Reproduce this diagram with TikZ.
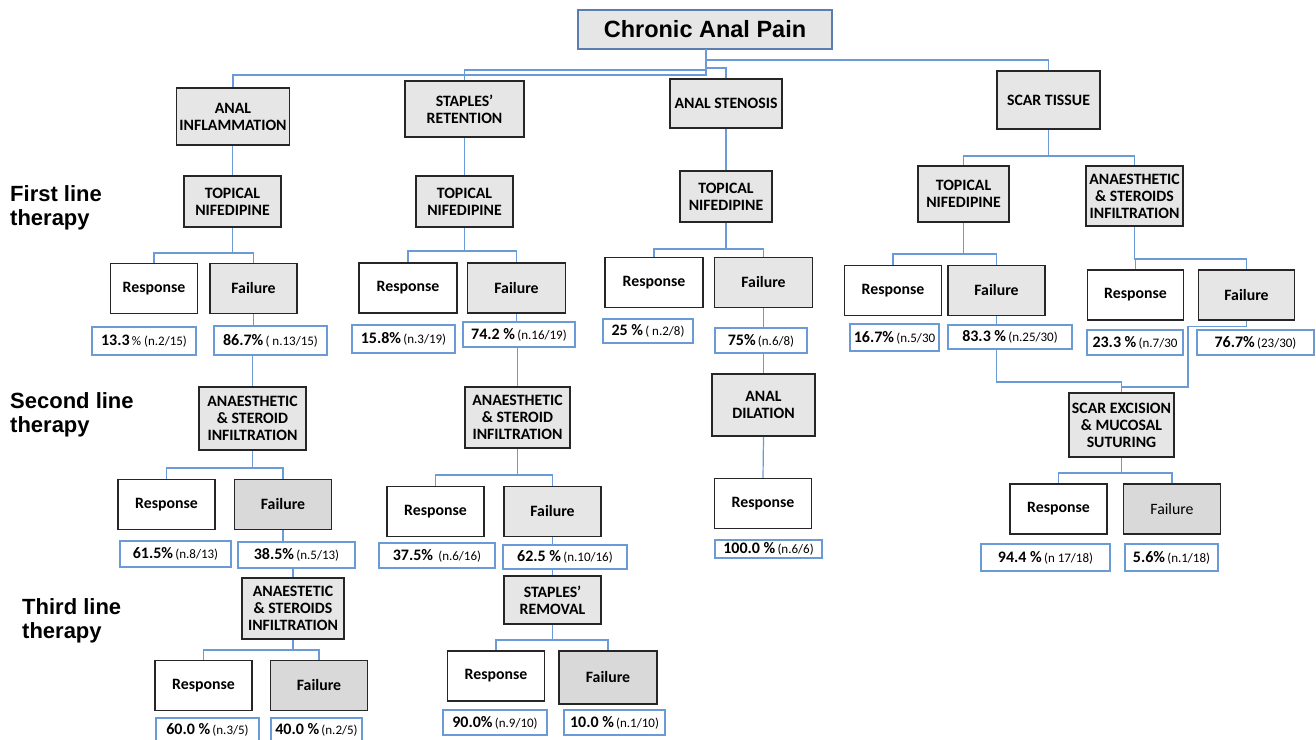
\documentclass[tikz,border=0pt]{standalone}
\usepackage{fontspec}
\setmainfont{Carlito}
\newfontfamily\headfont{Liberation Sans}
\usetikzlibrary{positioning}

\definecolor{boxFill}{HTML}{E7E6E6}
\definecolor{failFill}{HTML}{D9D9D9}
\definecolor{boxLine}{HTML}{262626}
\definecolor{linkBlue}{HTML}{6A9BD6}
\definecolor{rootLine}{HTML}{5B7DB0}

\newcommand\boxfont{\fontsize{15.8}{17}\selectfont\bfseries}
\newcommand\pctText[2]{{\fontsize{16}{17}\selectfont\bfseries #1} {\fontsize{13}{14}\selectfont #2}}

\tikzset{
  catNode/.style={draw=boxLine, line width=1.5pt, fill=boxFill, inner sep=0pt, align=center, font=\boxfont},
  respNode/.style={catNode, fill=white, minimum height=50pt},
  failNode/.style={catNode, minimum height=50pt},
  failDark/.style={failNode, fill=failFill},
  pctNode/.style={draw=linkBlue, line width=1.2pt, fill=white, inner sep=0pt},
  stageLabel/.style={anchor=west, align=left, inner sep=0pt, font=\headfont\bfseries\fontsize{22}{24}\selectfont},
  link/.style={draw=linkBlue, line width=1.2pt}
}

\begin{document}
\begin{tikzpicture}[x=1pt, y=-1pt]
\useasboundingbox (0,0) rectangle (1316,739);

\node [catNode, draw=rootLine, minimum width=254pt, minimum height=39pt,
  font=\headfont\bfseries\fontsize{23.5}{26}\selectfont] (root) at (705,29.5) {Chronic Anal Pain};
\coordinate (rootDrop) at (706,49);

% causes
\foreach \n/\x/\y/\w/\h/\t in {1/233/116.5/113/57/{ANAL\\INFLAMMATION}, 2/464.5/109/119/56/{STAPLES’\\RETENTION},
    3/726/103.5/112/49/{ANAL STENOSIS}, 4/1048.5/100/103/58/{SCAR TISSUE}}
  \node [catNode, minimum width=\w pt, minimum height=\h pt] (cause-\n) at (\x,\y) {\t};

% first line therapy
\foreach \n/\x/\y/\w/\h/\t in {1/232.5/201.5/97/51/{TOPICAL\\NIFEDIPINE}, 2/464.5/201.5/97/51/{TOPICAL\\NIFEDIPINE},
    3/726/196.5/92/51/{TOPICAL\\NIFEDIPINE}, 4/963.5/194/91/56/{TOPICAL\\NIFEDIPINE},
    5/1134.5/196/97/60/{ANAESTHETIC\\\& STEROIDS\\INFILTRATION}}
  \node [catNode, minimum width=\w pt, minimum height=\h pt] (line1-\n) at (\x,\y) {\t};

\foreach \n/\rx/\fx/\y/\w in {1/154/253.5/288.5/87, 2/408/516.5/288/98, 3/654/763.5/282.5/98,
    4/893/996.5/290.5/97, 5/1135.5/1246.5/295/96} {
  \node [respNode, minimum width=\w pt] (resp1-\n) at (\rx,\y) {Response};
  \node [failNode, minimum width=\w pt] (fail1-\n) at (\fx,\y) {Failure};
}

% second line therapy
\foreach \n/\x/\y/\w/\h/\t in {1/252.5/418.5/107/63/{ANAESTHETIC\\\& STEROID\\INFILTRATION},
    2/517.5/417.5/105/61/{ANAESTHETIC\\\& STEROID\\INFILTRATION}, 3/763.5/405/103/62/{ANAL\\DILATION},
    4/1121.5/425/105/64/{SCAR EXCISION\\\& MUCOSAL\\SUTURING}}
  \node [catNode, minimum width=\w pt, minimum height=\h pt] (line2-\n) at (\x,\y) {\t};

\node [respNode, minimum width=97pt] (resp2-1) at (166.5,504.5) {Response};
\node [failDark, minimum width=97pt] (fail2-1) at (283,504.5) {Failure};
\node [respNode, minimum width=97pt] (resp2-2) at (435.5,511.5) {Response};
\node [failNode, minimum width=97pt] (fail2-2) at (552.5,511.5) {Failure};
\node [respNode, minimum width=97pt] (resp2-3) at (763,503.5) {Response};
\node [respNode, minimum width=97pt] (resp2-4) at (1058.5,509) {Response};
\node [failDark, minimum width=97pt, font=\boxfont\mdseries] (fail2-4) at (1172,509) {Failure};

% third line therapy
\node [catNode, minimum width=102pt, minimum height=61pt] (line3-1) at (293,608.5) {ANAESTETIC\\\& STEROIDS\\INFILTRATION};
\node [catNode, minimum width=97pt, minimum height=48pt] (line3-2) at (552.5,600) {STAPLES’\\REMOVAL};

\node [respNode, minimum width=97pt] (resp3-1) at (203.5,685.5) {Response};
\node [failDark, minimum width=97pt] (fail3-1) at (319,685.5) {Failure};
\node [respNode, minimum width=97pt] (resp3-2) at (496,676) {Response};
\node [failDark, minimum width=98pt, minimum height=53pt] (fail3-2) at (608,677.5) {Failure};

% percentages
\foreach \n/\x/\y/\w/\h/\t in {
    R1-1/144/341/104/28/{\pctText{13.3}{\% (n.2/15)}}, F1-1/270.5/340.5/113/29/{\pctText{86.7\%}{( n.13/15)}},
    R1-2/403.5/339/103/28/{\pctText{15.8\%}{(n.3/19)}}, F1-2/519/334.5/112/25/{\pctText{74.2 \%}{(n.16/19)}},
    R1-3/648/331/90/24/{\pctText{25 \%}{( n.2/8)}}, F1-3/761/340.5/92/25/{\pctText{75\%}{(n.6/8)}},
    R1-4/894.5/337.5/89/27/{\pctText{16.7\%}{(n.5/30}}, F1-4/1010/337/124/24/{\pctText{83.3 \%}{(n.25/30)}},
    R1-5/1135/342.5/96/25/{\pctText{23.3 \%}{(n.7/30}}, F1-5/1255.5/342.5/117/25/{\pctText{76.7\%}{(23/30)}},
    R2-1/175.5/554/111/26/{\pctText{61.5\%}{(n.8/13)}}, F2-1/296.5/555/117/26/{\pctText{38.5\%}{(n.5/13)}},
    R2-2/437/555.5/116/25/{\pctText{37.5\%}{~(n.6/16)}}, F2-2/565/557/124/24/{\pctText{62.5 \%}{(n.10/16)}},
    R2-3/768.5/549/107/18/{\pctText{100.0 \%}{(n.6/6)}},
    R2-4/1045.5/557.5/129/27/{\pctText{94.4 \%}{(n 17/18)}}, F2-4/1171.5/557.5/93/27/{\pctText{5.6\%}{(n.1/18)}},
    R3-1/207.5/730/103/24/{\pctText{60.0 \%}{(n.3/5)}}, F3-1/316.5/730/91/24/{\pctText{40.0 \%}{(n.2/5)}},
    R3-2/495/722.5/104/25/{\pctText{90.0\%}{(n.9/10)}}, F3-2/614.5/722.5/101/25/{\pctText{10.0 \%}{(n.1/10)}}}
  \node [pctNode, minimum width=\w pt, minimum height=\h pt] (p\n) at (\x,\y) {\t};

% therapy stages
\foreach \n/\x/\y/\t in {1/10/208/{First line\\therapy}, 2/10/415/{Second line\\therapy}, 3/22/621/{Third line\\therapy}}
  \node [stageLabel] (stage-\n) at (\x,\y) {\t};

% connectors
\foreach \c/\b in {1/75, 2/70, 3/68, 4/60}
  \draw [link] (rootDrop) |- (cause-\c.north |- 0,\b) -- (cause-\c.north);

\foreach \i in {1,2,3}
  \draw [link] (line1-\i.north |- cause-\i.south) -- (line1-\i.north);

\foreach \c in {4,5}
  \draw [link] (cause-4.south) |- (line1-\c.north |- 0,156) -- (line1-\c.north);

\foreach \i/\b in {1/253, 2/251, 3/249, 4/254, 5/259}
  \foreach \kind in {resp, fail}
    \draw [link] (line1-\i.south) |- (\kind1-\i.north |- 0,\b) -- (\kind1-\i.north);

\foreach \i in {1,...,4}
  \draw [link] (fail1-\i.south) -- (fail1-\i.south |- pF1-\i.north);

\foreach \i in {1,2,3}
  \draw [link] (pF1-\i.south -| line2-\i.north) -- (line2-\i.north);

\coordinate (scarJoin) at (1188,387);
\draw [link] (pF1-4.south -| fail1-4.south) |- (line2-4.north |- 0,382) -- (line2-4.north);
\draw [link] (fail1-5.south) -- ++(0,6) -| (scarJoin) -| (line2-4.north);

\foreach \p/\c/\b in {line2-1/resp2-1/468, line2-1/fail2-1/468, line2-2/resp2-2/475, line2-2/fail2-2/475,
    line2-4/resp2-4/473, line2-4/fail2-4/473, line3-1/resp3-1/650, line3-1/fail3-1/650,
    line3-2/resp3-2/640, line3-2/fail3-2/640}
  \draw [link] (\p.south) |- (\c.north |- 0,\b) -- (\c.north);

\draw [link] (line2-3.south) -- (resp2-3.north);

\foreach \i in {1,2} {
  \draw [link] (fail2-\i.south) -- (fail2-\i.south |- pF2-\i.north);
  \draw [link] (pF2-\i.south -| line3-\i.north) -- (line3-\i.north);
}

\end{tikzpicture}
\end{document}
